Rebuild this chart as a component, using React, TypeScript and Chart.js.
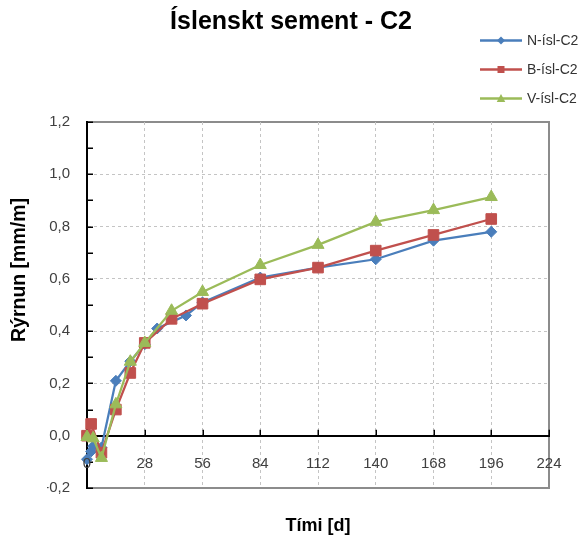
import React, { useEffect, useRef } from 'react';
import { Chart, registerables } from 'chart.js';

Chart.register(...registerables);

// Shrinkage of Icelandic cement, series C2 (mm/m over days)
const seriesNames = ['N-ísl-C2', 'B-ísl-C2', 'V-ísl-C2'];
const seriesColors = ['#4A7EBB', '#C0504D', '#9BBB59'];

const nDays = [0, 2, 3, 7, 14, 21, 28, 34, 48, 56, 84, 112, 140, 168, 196];
const nValues = [-0.09, -0.06, -0.04, -0.045, 0.21, 0.285, 0.35, 0.41, 0.46, 0.51, 0.605, 0.643, 0.675, 0.746, 0.78];

const bDays = [0, 2, 7, 14, 21, 28, 41, 56, 84, 112, 140, 168, 196];
const bValues = [0.0, 0.045, -0.065, 0.1, 0.24, 0.355, 0.447, 0.505, 0.598, 0.643, 0.708, 0.768, 0.829];

const vDays = [0, 3, 7, 14, 21, 28, 41, 56, 84, 112, 140, 168, 196];
const vValues = [-0.005, -0.01, -0.085, 0.12, 0.283, 0.355, 0.478, 0.55, 0.653, 0.73, 0.818, 0.863, 0.913];

const xTickValues = [0, 28, 56, 84, 112, 140, 168, 196, 224];
const yTickValues = [-0.2, 0, 0.2, 0.4, 0.6, 0.8, 1.0, 1.2];
const yMinorStep = 0.1;

const xMin = xTickValues[0];
const xMax = xTickValues[xTickValues.length - 1];
const yMin = yTickValues[0];
const yMax = yTickValues[yTickValues.length - 1];

const titleText = 'Íslenskt sement - C2';
const xTitleText = 'Tími [d]';
const yTitleText = 'Rýrnun [mm/m]';

const FONT = "'Liberation Sans', Arial, sans-serif";

type Shape = 'diamond' | 'square' | 'triangle';
const shapes: Shape[] = ['diamond', 'square', 'triangle'];

function markerPath(ctx: CanvasRenderingContext2D, shape: Shape, x: number, y: number, r: number) {
  ctx.beginPath();
  if (shape === 'diamond') {
    ctx.moveTo(x, y - r);
    ctx.lineTo(x + r, y);
    ctx.lineTo(x, y + r);
    ctx.lineTo(x - r, y);
  } else if (shape === 'square') {
    ctx.rect(x - r, y - r, 2 * r, 2 * r);
  } else {
    ctx.moveTo(x, y - r);
    ctx.lineTo(x + r * 0.95, y + r * 0.75);
    ctx.lineTo(x - r * 0.95, y + r * 0.75);
  }
  ctx.closePath();
}

const near = (a: number, b: number) => Math.abs(a - b) < 1e-6;
const fmt = (v: number) => {
  const r = Math.round(v * 10) / 10;
  return (Object.is(r, -0) ? 0 : r).toFixed(1).replace('.', ',');
};

const decorations = {
  id: 'decorations',
  beforeDraw(chart: any) {
    const { ctx, chartArea: a } = chart;
    ctx.save();
    ctx.strokeStyle = '#8C8C8C';
    ctx.lineWidth = 2;
    ctx.beginPath();
    ctx.moveTo(a.left, a.top);
    ctx.lineTo(a.right, a.top);
    ctx.lineTo(a.right, a.bottom);
    ctx.lineTo(a.left, a.bottom);
    ctx.stroke();
    ctx.restore();
  },
  beforeDatasetsDraw(chart: any) {
    const { ctx, chartArea: a, scales } = chart;
    const xs = scales.x;
    const ys = scales.y;
    ctx.save();
    ctx.strokeStyle = '#000';
    ctx.lineWidth = 1.5;
    ctx.beginPath();
    // inside tick marks on the value axis (major and minor)
    for (let v = yMin; v <= yMax + 1e-9; v += yMinorStep) {
      const py = Math.round(ys.getPixelForValue(v)) + 0.25;
      ctx.moveTo(a.left, py);
      ctx.lineTo(a.left + 6, py);
    }
    // inside tick marks on the time axis, which crosses at zero
    const y0 = ys.getPixelForValue(0);
    xTickValues.slice(1).forEach((d) => {
      const px = Math.round(xs.getPixelForValue(d)) + 0.25;
      ctx.moveTo(px, y0);
      ctx.lineTo(px, y0 - 6);
    });
    ctx.stroke();
    ctx.restore();
  },
  afterDraw(chart: any) {
    const { ctx, chartArea: a, scales } = chart;
    const xs = scales.x;
    const ys = scales.y;
    ctx.save();

    // time axis labels sit on top of the early markers
    ctx.fillStyle = '#404040';
    ctx.font = `15px ${FONT}`;
    ctx.textAlign = 'center';
    ctx.textBaseline = 'middle';
    const y0 = ys.getPixelForValue(0);
    xTickValues.forEach((d) => {
      ctx.fillText(String(d), xs.getPixelForValue(d), y0 + 28);
    });

    ctx.fillStyle = '#000';
    ctx.font = `bold 25px ${FONT}`;
    ctx.fillText(titleText, 291, 22);

    ctx.font = `bold 18px ${FONT}`;
    ctx.fillText(xTitleText, (a.left + a.right) / 2, 526);

    ctx.save();
    ctx.translate(20, 270);
    ctx.rotate(-Math.PI / 2);
    ctx.font = `bold 19.5px ${FONT}`;
    ctx.fillText(yTitleText, 0, 0);
    ctx.restore();

    // legend
    const legendY = [40.5, 69.5, 98.5];
    const markerSizes = [4, 3.5, 4.5];
    ctx.font = `14px ${FONT}`;
    ctx.textAlign = 'left';
    seriesNames.forEach((name, i) => {
      const y = legendY[i];
      ctx.strokeStyle = seriesColors[i];
      ctx.lineWidth = 2.5;
      ctx.beginPath();
      ctx.moveTo(480, y);
      ctx.lineTo(522, y);
      ctx.stroke();
      ctx.fillStyle = seriesColors[i];
      markerPath(ctx, shapes[i], 501, y, markerSizes[i]);
      ctx.fill();
      ctx.fillStyle = '#333';
      ctx.fillText(name, 527, y + 1);
    });
    ctx.restore();
  },
};

export default function App() {
  const canvasRef = useRef<HTMLCanvasElement | null>(null);

  useEffect(() => {
    const canvas = canvasRef.current;
    if (!canvas) return;

    const makeSet = (i: number, days: number[], values: number[], pointStyle: string, radius: number, order: number) => ({
      label: seriesNames[i],
      data: days.map((d, k) => ({ x: d, y: values[k] })),
      borderColor: seriesColors[i],
      backgroundColor: seriesColors[i],
      pointBackgroundColor: seriesColors[i],
      pointBorderColor: seriesColors[i],
      borderWidth: 2.25,
      pointStyle,
      pointRadius: radius,
      pointHoverRadius: radius,
      pointBorderWidth: 1,
      tension: 0,
      clip: false as any,
      order,
    });

    const gridColorX = (c: any) => {
      const v = c.tick?.value;
      if (v === undefined || near(v, xMin) || near(v, xMax)) return 'rgba(0,0,0,0)';
      return '#C4C4C4';
    };
    const gridColorY = (c: any) => {
      const v = c.tick?.value;
      if (v === undefined || near(v, yMin) || near(v, yMax) || near(v, 0)) return 'rgba(0,0,0,0)';
      return '#C4C4C4';
    };

    const chart = new Chart(canvas, {
      type: 'line',
      data: {
        datasets: [
          makeSet(0, nDays, nValues, 'rectRot', 5.5, 2),
          makeSet(1, bDays, bValues, 'rect', 7.5, 1),
          makeSet(2, vDays, vValues, 'triangle', 7, 0),
        ] as any,
      },
      options: {
        responsive: false,
        animation: false,
        devicePixelRatio: 1,
        layout: { padding: { left: 47, right: 34, top: 122, bottom: 56 } },
        plugins: {
          legend: { display: false },
          title: { display: false },
          tooltip: { enabled: false },
        },
        events: [],
        scales: {
          x: {
            type: 'linear',
            min: xMin,
            max: xMax,
            position: { y: 0 } as any,
            afterFit: (s: any) => {
              s.height = 0;
            },
            afterBuildTicks: (s: any) => {
              s.ticks = xTickValues.map((value) => ({ value }));
            },
            ticks: { display: false, autoSkip: false, maxRotation: 0 },
            grid: { color: gridColorX, lineWidth: 1, drawTicks: false },
            border: { display: true, color: '#000', width: 2, dash: [3, 3] },
          },
          y: {
            type: 'linear',
            min: yMin,
            max: yMax,
            position: 'left',
            afterFit: (s: any) => {
              s.width = 40;
            },
            afterBuildTicks: (s: any) => {
              s.ticks = yTickValues.map((value) => ({ value }));
            },
            ticks: {
              padding: 17,
              color: '#404040',
              font: { family: FONT, size: 15 },
              callback: (v: any) => fmt(Number(v)),
            },
            grid: { color: gridColorY, lineWidth: 1, drawTicks: false },
            border: { display: true, color: '#000', width: 2, dash: [3, 3] },
          },
        },
      } as any,
      plugins: [decorations],
    });

    return () => chart.destroy();
  }, []);

  return (
    <div style={{ position: 'absolute', left: 0, top: 0, width: 583, height: 544, background: '#fff' }}>
      <canvas ref={canvasRef} width={583} height={544} />
    </div>
  );
}
